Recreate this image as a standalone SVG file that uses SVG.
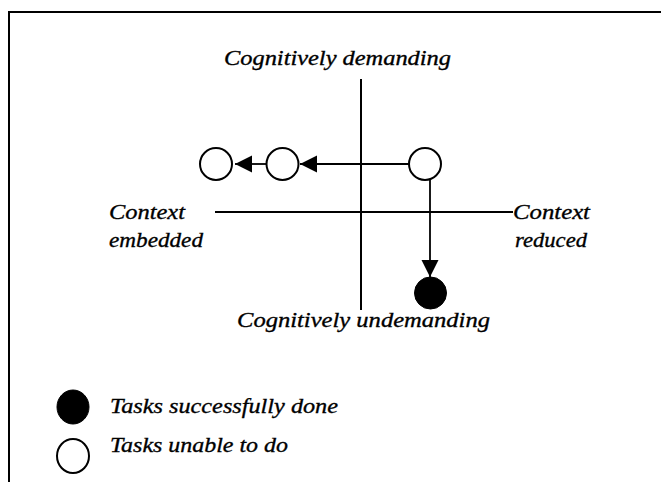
<svg xmlns="http://www.w3.org/2000/svg" width="661" height="482" viewBox="0 0 661 482">
  <style>
    .frame { stroke: #000; stroke-width: 2; fill: none; }
    .axis { stroke: #000; stroke-width: 2; fill: none; }
    .link { stroke: #000; stroke-width: 1.8; fill: none; }
    .open { fill: #fff; stroke: #000; stroke-width: 2; }
    .done { fill: #000; stroke: #000; stroke-width: 1; }
    .lbl { font-family: "Liberation Serif", "DejaVu Serif", serif; font-style: italic; font-size: 22px; fill: #000; stroke: #000; stroke-width: 0.35; }
  </style>
  <defs>
    <marker id="head" markerUnits="userSpaceOnUse" markerWidth="18" markerHeight="18" refX="17" refY="8.5" orient="auto">
      <path d="M0,0 L17,8.5 L0,17 Z" fill="#000"/>
    </marker>
  </defs>
  <rect width="661" height="482" fill="#fff"/>

  <!-- page frame -->
  <g id="frame">
    <line class="frame" x1="9" y1="12" x2="661" y2="12"/>
    <line class="frame" x1="9" y1="11" x2="9" y2="482"/>
  </g>

  <!-- quadrant axes -->
  <g id="axes">
    <line class="axis" x1="361" y1="79" x2="361" y2="310"/>
    <line class="axis" x1="215" y1="212" x2="513" y2="212"/>
  </g>

  <!-- axis labels -->
  <g id="axis-labels">
    <text class="lbl" x="224" y="65" textLength="227" lengthAdjust="spacingAndGlyphs">Cognitively demanding</text>
    <text class="lbl" x="237" y="327" textLength="253" lengthAdjust="spacingAndGlyphs">Cognitively undemanding</text>
    <text class="lbl" x="109" y="219" textLength="76" lengthAdjust="spacingAndGlyphs">Context</text>
    <text class="lbl" x="109" y="247" textLength="94" lengthAdjust="spacingAndGlyphs">embedded</text>
    <text class="lbl" x="513" y="219" textLength="77" lengthAdjust="spacingAndGlyphs">Context</text>
    <text class="lbl" x="515" y="247" textLength="72" lengthAdjust="spacingAndGlyphs">reduced</text>
  </g>

  <!-- connectors -->
  <g id="connectors">
    <line class="link" x1="409" y1="164" x2="300" y2="164" marker-end="url(#head)"/>
    <line class="link" x1="266" y1="164" x2="235" y2="164" marker-end="url(#head)"/>
    <line class="link" x1="430" y1="179" x2="430" y2="277" marker-end="url(#head)"/>
  </g>

  <!-- task nodes -->
  <g id="task-start"><circle class="open" cx="425" cy="164" r="16"/></g>
  <g id="task-mid"><circle class="open" cx="282.5" cy="164" r="16"/></g>
  <g id="task-left"><circle class="open" cx="216" cy="164" r="16"/></g>
  <g id="task-done"><circle class="done" cx="430.5" cy="293" r="16"/></g>

  <!-- legend -->
  <g id="legend">
    <g id="legend-done">
      <ellipse class="done" cx="73" cy="407" rx="16" ry="17"/>
      <text class="lbl" x="110" y="413" textLength="228" lengthAdjust="spacingAndGlyphs">Tasks successfully done</text>
    </g>
    <g id="legend-open">
      <ellipse class="open" cx="73" cy="456" rx="16" ry="17"/>
      <text class="lbl" x="110" y="452" textLength="178" lengthAdjust="spacingAndGlyphs">Tasks unable to do</text>
    </g>
  </g>
</svg>
